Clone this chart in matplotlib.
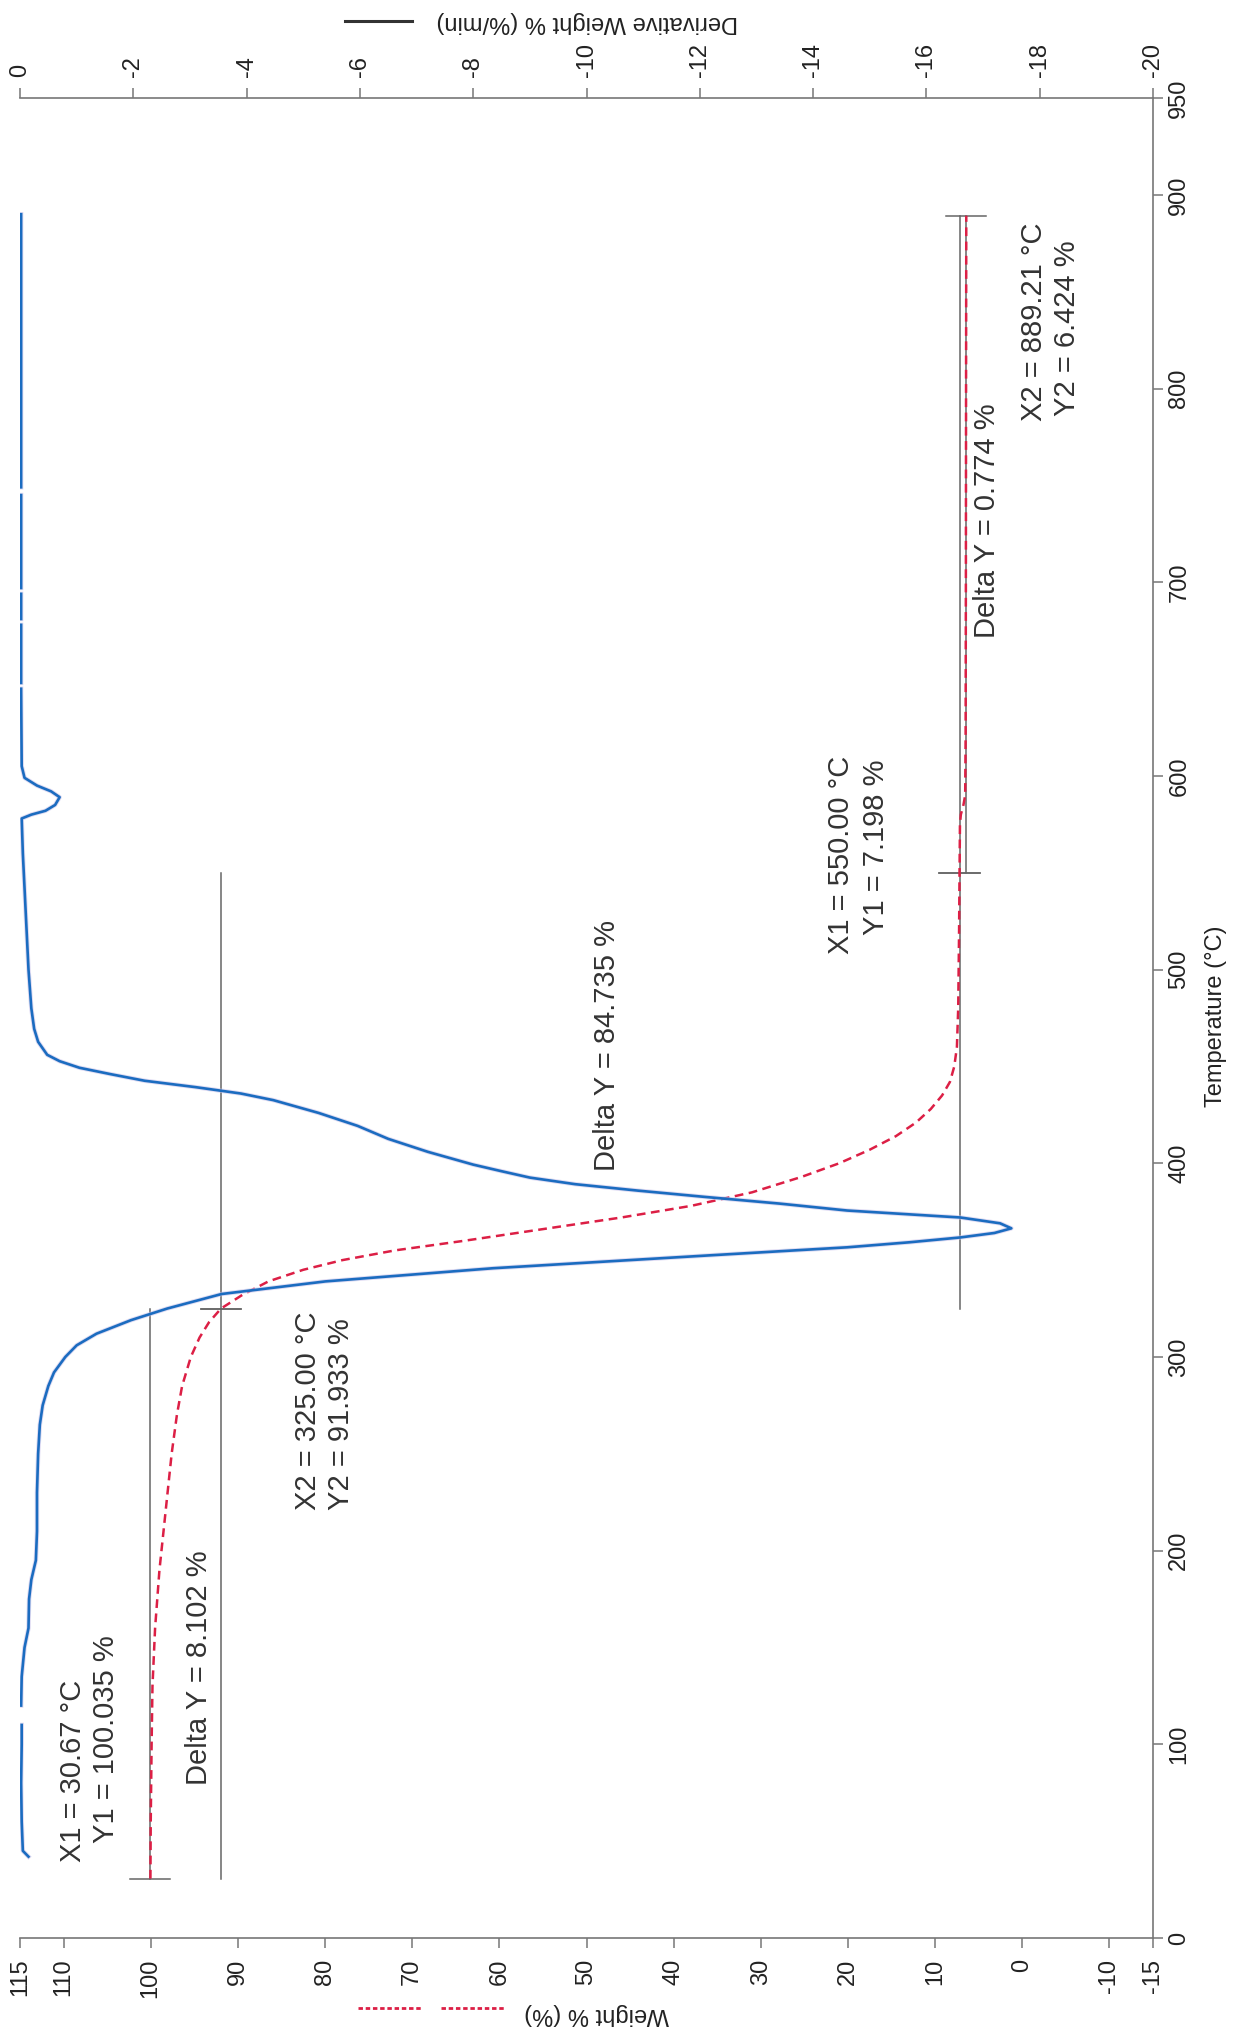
import matplotlib.pyplot as plt
from matplotlib.lines import Line2D
import numpy as np

plt.rcParams['font.family'] = ['Liberation Sans', 'DejaVu Sans']

# TGA weight curve: temperature (°C) / weight (%)
temp_w = [30.67, 60, 100, 130, 160, 190, 220, 250, 270, 285, 300, 310, 318, 325,
          332, 339, 345, 350, 355, 360, 366, 372, 378, 385, 393, 400, 407, 414,
          421, 428, 435, 442, 450, 460, 480, 520, 550, 575, 580, 585, 590, 620,
          700, 800, 889.21]
weight = [100.035, 100.0, 99.9, 99.8, 99.5, 99.0, 98.3, 97.6, 97.0, 96.4, 95.4, 94.4, 93.3, 91.933,
          89.5, 86.5, 82.5, 78.0, 72.0, 64.0, 55.0, 46.0, 38.0, 31.0, 25.3, 21.0, 17.5, 14.5,
          12.2, 10.5, 9.2, 8.3, 7.8, 7.5, 7.35, 7.25, 7.198, 7.15, 7.05, 6.75, 6.55, 6.50,
          6.47, 6.45, 6.424]

# DTG curve: temperature (°C) / derivative weight (%/min); NaN = gap in trace
temp_d = [42, 45, 60, 80, 100, 110, 111, 120, 135, 150, 160, 175, 185, 195, 210, 230,
          250, 265, 275, 285, 292, 300, 306, 312, 319, 325, 332.5, 339, 345.8, 352.5,
          356.6, 359.2, 361.7, 364, 366.4, 369, 372, 375.6, 379.2, 382.6, 385.9, 389.2,
          392.6, 395.9, 399.3, 405.9, 412.6, 419.3, 426, 432.6, 436, 439.3, 442.6, 446,
          449.3, 452.7, 456, 462.7, 469.4, 480, 500, 530, 560, 578, 580, 582, 585, 589,
          592, 595, 599, 605, 645, 646, 648, 678, 679, 681, 694, 695, 697, 745, 746,
          749, 850, 890]
deriv = [-0.15, -0.05, -0.03, -0.02, -0.03, -0.03, np.nan, -0.02, -0.03, -0.08, -0.15,
         -0.16, -0.2, -0.28, -0.3, -0.3, -0.32, -0.35, -0.4, -0.5, -0.6, -0.8, -1.0,
         -1.35, -1.96, -2.6, -3.56, -5.39, -8.35, -12.2, -14.6, -15.7, -16.6, -17.2,
         -17.5, -17.3, -16.6, -14.6, -13.4, -12.1, -10.9, -9.8, -9.0, -8.5, -8.0, -7.2,
         -6.5, -5.96, -5.27, -4.47, -3.9, -3.1, -2.2, -1.6, -1.05, -0.7, -0.48, -0.32,
         -0.25, -0.2, -0.15, -0.1, -0.05, -0.03, -0.2, -0.45, -0.62, -0.70, -0.55,
         -0.3, -0.08, -0.03, -0.02, np.nan, -0.02, -0.02, np.nan, -0.02, -0.02, np.nan,
         -0.02, -0.02, np.nan, -0.02, -0.02, -0.02]

# step analysis results: X1, Y1, X2, Y2
steps = [(30.67, 100.035, 325.00, 91.933),
         (325.00, 91.933, 550.00, 7.198),
         (550.00, 7.198, 889.21, 6.424)]

w_ticks = [115, 110, 100, 90, 80, 70, 60, 50, 40, 30, 20, 10, 0, -10, -15]
t_ticks = [0, 100, 200, 300, 400, 500, 600, 700, 800, 900, 950]
d_ticks = [0, -2, -4, -6, -8, -10, -12, -14, -16, -18, -20]

red = '#dc1f45'
blue = '#1b6cc0'
grey = '#666666'
txt = '#333333'

fig = plt.figure(figsize=(12.33, 20.29), dpi=100)
ax = fig.add_axes([20 / 1233, 1 - 1938 / 2029, 1133 / 1233, 1840 / 2029])
ax.set_xlim(115, -15)
ax.set_ylim(0, 950)

for sp in ['left', 'top']:
    ax.spines[sp].set_visible(False)
for sp in ['bottom', 'right']:
    ax.spines[sp].set_color('#777777')
    ax.spines[sp].set_linewidth(1.2)

ax.yaxis.tick_right()
ax.set_xticks(w_ticks)
ax.set_xticklabels([str(v) for v in w_ticks], rotation=90)
ax.set_yticks(t_ticks)
ax.set_yticklabels([str(v) for v in t_ticks], rotation=90, va='center')
ax.tick_params(axis='x', direction='out', length=7, width=1.1, color='#777777',
               labelsize=17, labelcolor='#222222', pad=8)
ax.tick_params(axis='y', direction='out', length=7, width=1.1, color='#777777',
               labelsize=17, labelcolor='#222222', pad=4)

# derivative axis along the top
ax2 = ax.twiny()
ax2.set_xlim(0, -20)
ax2.set_ylim(0, 950)
for sp in ['left', 'right', 'bottom']:
    ax2.spines[sp].set_visible(False)
ax2.spines['top'].set_color('#777777')
ax2.spines['top'].set_linewidth(1.2)
ax2.set_xticks(d_ticks)
ax2.set_xticklabels([str(v) for v in d_ticks], rotation=90)
ax2.tick_params(axis='x', direction='out', length=7, width=1.1, color='#777777',
                labelsize=17, labelcolor='#222222', pad=8)

# curves
ax2.plot(deriv, temp_d, color='#c9c3ea', lw=3.2, alpha=0.6, zorder=2)
ax2.plot(deriv, temp_d, color=blue, lw=1.9, zorder=3)
ax.plot(weight, temp_w, color=red, lw=1.8, ls=(0, (3.5, 2.2)), zorder=4)

# step markers
cap = 2.3
for x1, y1, x2, y2 in steps:
    ax.plot([y1, y1], [x1, x2], color=grey, lw=1.1, zorder=1)
    ax.plot([y2, y2], [x1, x2], color=grey, lw=1.1, zorder=1)
    ax.plot([y1 + cap, y1 - cap], [x1, x1], color=grey, lw=1.1, zorder=1)
    ax.plot([y2 + cap, y2 - cap], [x2, x2], color=grey, lw=1.1, zorder=1)

labels = [
    (108.9, 39, 'X1 = 30.67 °C'),
    (105.1, 49, 'Y1 = 100.035 %'),
    (94.5, 79, 'Delta Y = 8.102 %'),
    (81.9, 221, 'X2 = 325.00 °C'),
    (78.2, 221, 'Y2 = 91.933 %'),
    (47.6, 396, 'Delta Y = 84.735 %'),
    (20.8, 508, 'X1 = 550.00 °C'),
    (16.8, 518, 'Y1 = 7.198 %'),
    (4.1, 671, 'Delta Y = 0.774 %'),
    (-1.4, 783, 'X2 = 889.21 °C'),
    (-5.1, 786, 'Y2 = 6.424 %'),
]
for w, t, s in labels:
    ax.text(w, t, s, rotation=90, rotation_mode='anchor', ha='left', va='center',
            fontsize=21, color=txt, zorder=5)

# axis titles with their line samples
fig.text(1216 / 1233, 1 - 1016 / 2029, 'Temperature (°C)', rotation=90,
         ha='center', va='center', fontsize=17, color='#222222')
fig.text(738 / 1233, 1 - 22 / 2029, 'Derivative Weight % (%/min)', rotation=180,
         ha='right', va='center', fontsize=17, color='#222222')
fig.add_artist(Line2D([345 / 1233, 412 / 1233], [1 - 21 / 2029, 1 - 21 / 2029],
                      color='#333333', lw=2.2))
fig.text(669 / 1233, 1 - 2014 / 2029, 'Weight % (%)', rotation=180,
         ha='right', va='center', fontsize=17, color='#222222')
for xa, xb in [(358, 421), (441, 504)]:
    fig.add_artist(Line2D([xa / 1233, xb / 1233], [1 - 2008 / 2029, 1 - 2008 / 2029],
                          color=red, lw=2.0, ls=(0, (1.6, 1.0))))

fig.savefig('out.png', dpi=100)
